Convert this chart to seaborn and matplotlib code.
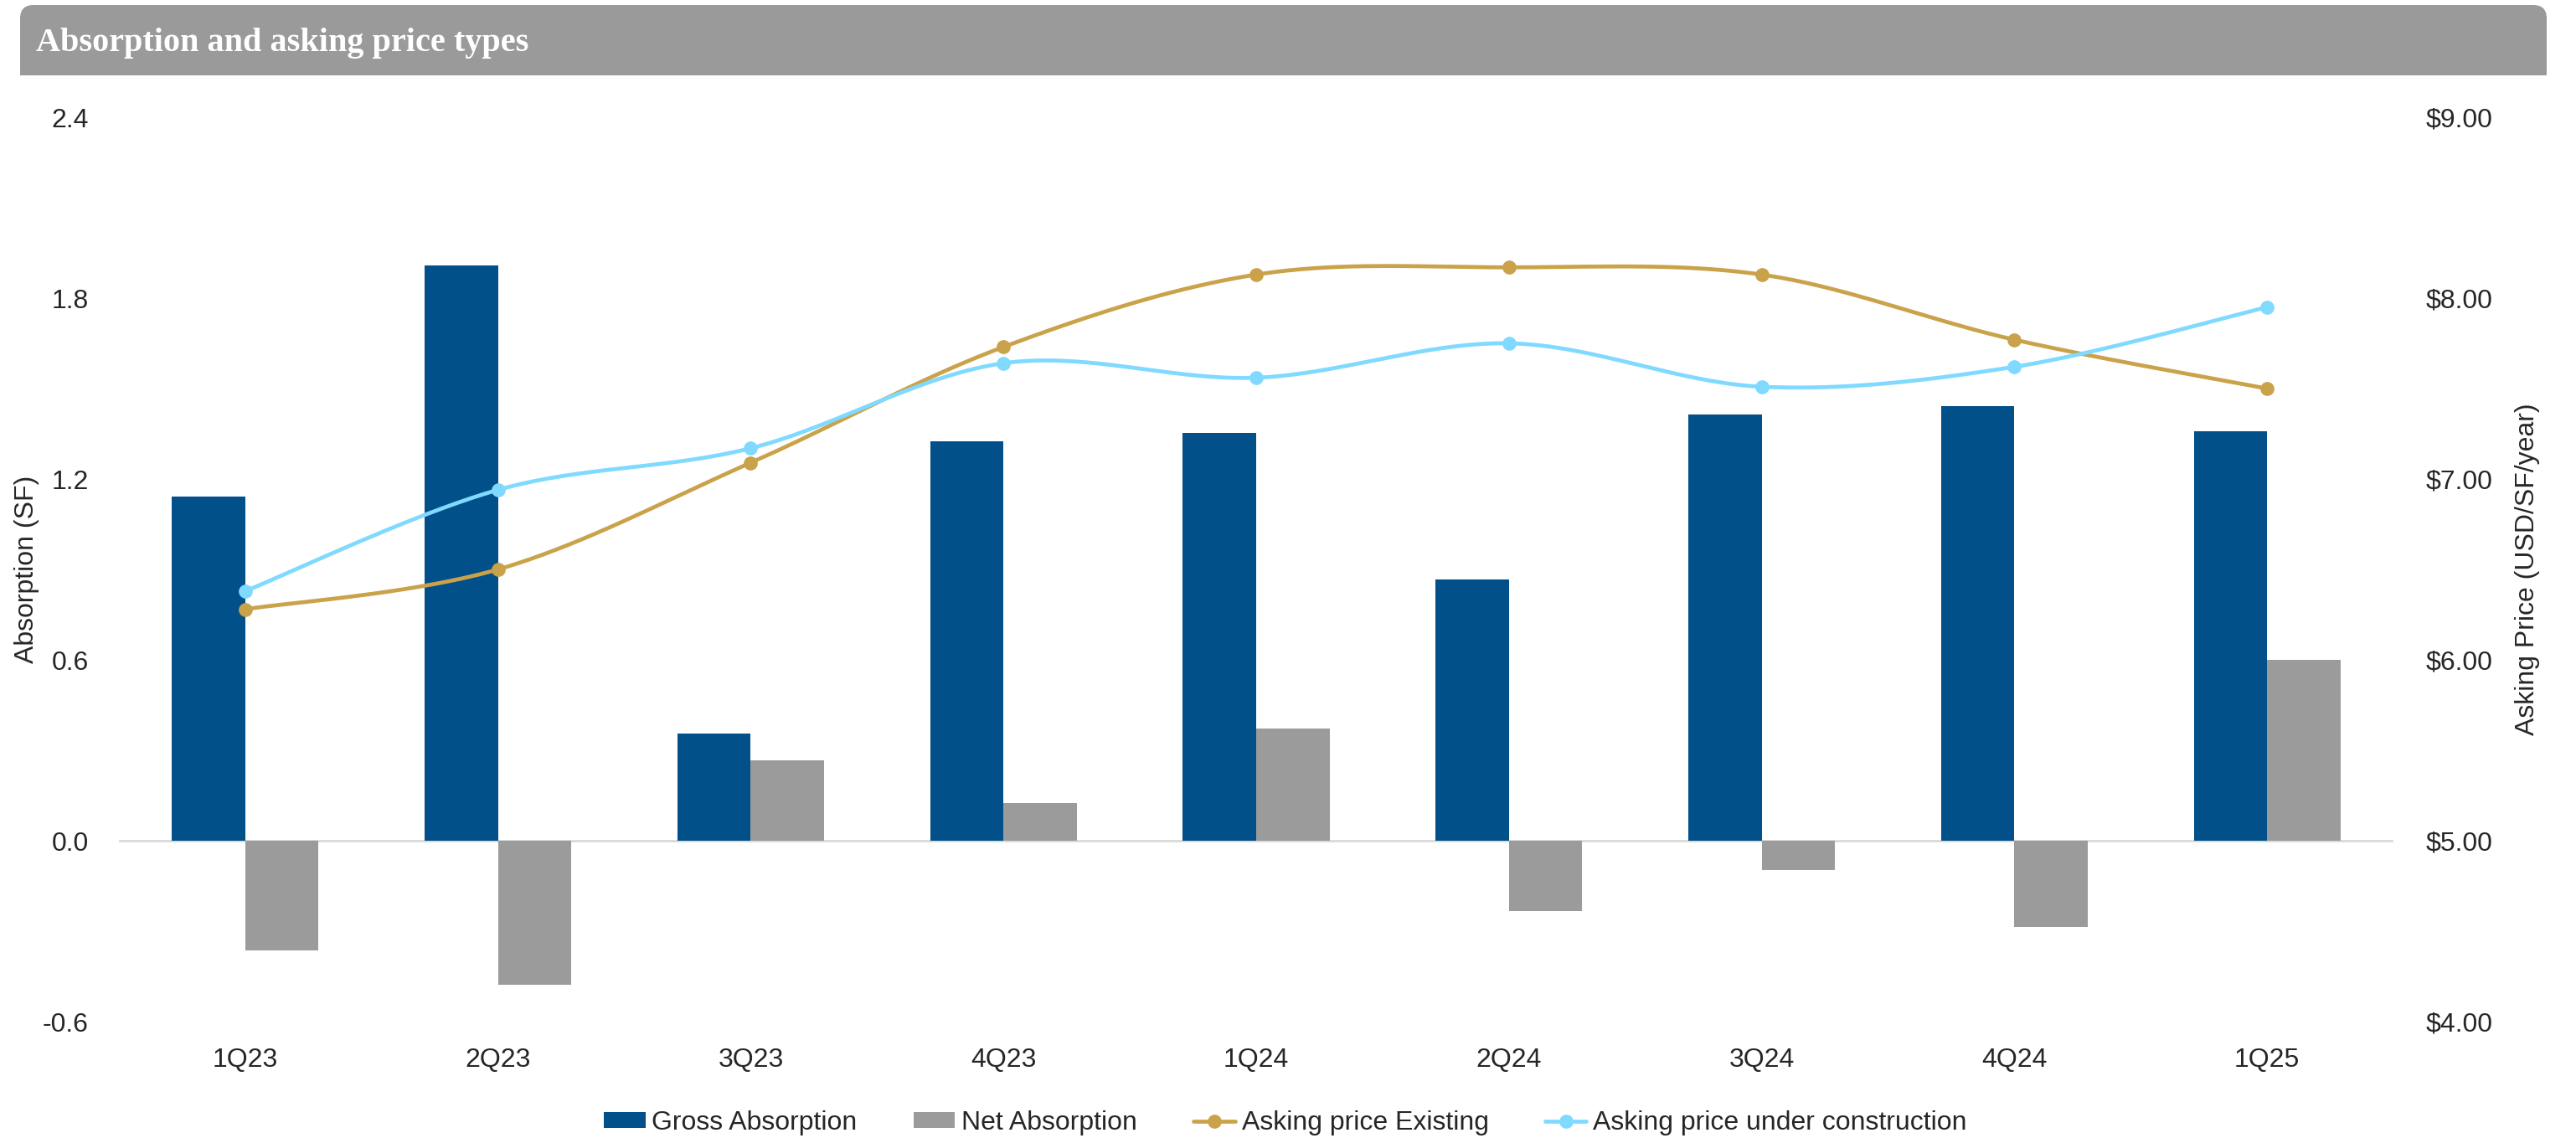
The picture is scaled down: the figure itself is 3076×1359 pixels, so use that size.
import numpy as np
import pandas as pd
import matplotlib
matplotlib.use("Agg")
import matplotlib.pyplot as plt
import seaborn as sns
from matplotlib.patches import FancyBboxPatch, Rectangle, Patch
from matplotlib.lines import Line2D
from matplotlib.transforms import IdentityTransform

# ---- data -------------------------------------------------------------
quarters = ["1Q23", "2Q23", "3Q23", "4Q23", "1Q24", "2Q24", "3Q24", "4Q24", "1Q25"]
gross_absorption = [1.143, 1.907, 0.355, 1.325, 1.352, 0.866, 1.413, 1.442, 1.359]
net_absorption = [-0.363, -0.478, 0.266, 0.125, 0.372, -0.232, -0.096, -0.286, 0.601]
price_existing = [6.28, 6.50, 7.09, 7.73, 8.13, 8.17, 8.13, 7.77, 7.50]
price_under_construction = [6.38, 6.94, 7.17, 7.64, 7.56, 7.75, 7.51, 7.62, 7.95]

left_ticks = [-0.6, 0.0, 0.6, 1.2, 1.8, 2.4]
right_ticks = [4.0, 5.0, 6.0, 7.0, 8.0, 9.0]

C_GROSS = "#02508A"
C_NET = "#9B9B9B"
C_EXIST = "#C9A24A"
C_UC = "#80D9FF"
TXT = "#262626"
FS = 23

sns.set_style("white")
plt.rcParams["font.family"] = ["Liberation Sans", "DejaVu Sans"]

W, H = 3076, 1359
fig = plt.figure(figsize=(W / 100, H / 100), dpi=100)
ax = fig.add_axes([142 / W, 1 - 1220 / H, (2858 - 142) / W, (1220 - 140) / H])

# ---- bars ---------------------------------------------------------------
bars = pd.DataFrame({
    "Quarter": quarters * 2,
    "Value": gross_absorption + net_absorption,
    "Series": ["Gross Absorption"] * len(quarters) + ["Net Absorption"] * len(quarters),
})
sns.barplot(data=bars, x="Quarter", y="Value", hue="Series", order=quarters,
            palette=[C_GROSS, C_NET], saturation=1, width=0.58, linewidth=0,
            legend=False, errorbar=None, ax=ax, zorder=2)
ax.axhline(0, color="#D9D9D9", lw=2, zorder=1)
ax.set_xlim(-0.5, len(quarters) - 0.5)
ax.set_ylim(-0.6, 2.4)
ax.set_yticks(left_ticks)
ax.set_yticklabels([f"{t:.1f}" for t in left_ticks])
ax.set_xlabel("")
ax.set_ylabel("Absorption (SF)", fontsize=FS, color=TXT)
ax.yaxis.set_label_coords((47 - 142) / (2858 - 142), 0.5)
ax.tick_params(axis="both", length=0, labelsize=FS, labelcolor=TXT)
ax.tick_params(axis="y", pad=26)
ax.tick_params(axis="x", pad=22)
for s in ax.spines.values():
    s.set_visible(False)

# ---- smoothed price lines on the secondary axis ------------------------
def smooth(xv, yv, n=40):
    """Cubic Bezier smoothing through every point (spreadsheet-style)."""
    x = np.asarray(xv, float)
    y = np.asarray(yv, float)
    xs, ys = [], []
    m = len(x)
    for i in range(m - 1):
        x0, y0 = (x[i - 1], y[i - 1]) if i > 0 else (x[i], y[i])
        x3, y3 = (x[i + 2], y[i + 2]) if i + 2 < m else (x[i + 1], y[i + 1])
        c1x = x[i] + (x[i + 1] - x0) / 6
        c1y = y[i] + (y[i + 1] - y0) / 6
        c2x = x[i + 1] - (x3 - x[i]) / 6
        c2y = y[i + 1] - (y3 - y[i]) / 6
        t = np.linspace(0, 1, n)
        b0 = (1 - t) ** 3
        b1 = 3 * (1 - t) ** 2 * t
        b2 = 3 * (1 - t) * t ** 2
        b3 = t ** 3
        xs.append(b0 * x[i] + b1 * c1x + b2 * c2x + b3 * x[i + 1])
        ys.append(b0 * y[i] + b1 * c1y + b2 * c2y + b3 * y[i + 1])
    return np.concatenate(xs), np.concatenate(ys)

ax2 = ax.twinx()
pos = np.arange(len(quarters))
for vals, col in [(price_existing, C_EXIST), (price_under_construction, C_UC)]:
    sx, sy = smooth(pos, vals)
    sns.lineplot(x=sx, y=sy, color=col, lw=3.4, sort=False, ax=ax2, zorder=3)
    ax2.plot(pos, vals, "o", color=col, ms=11, zorder=4)
ax2.set_ylim(4, 9)
ax2.set_yticks(right_ticks)
ax2.set_yticklabels([f"${t:.2f}" for t in right_ticks])
ax2.set_ylabel("Asking Price (USD/SF/year)", fontsize=FS, color=TXT)
ax2.yaxis.set_label_coords((3003 - 142) / (2858 - 142), 0.5)
ax2.tick_params(axis="y", length=0, labelsize=FS, labelcolor=TXT, pad=28)
for s in ax2.spines.values():
    s.set_visible(False)
ax2.set_xlim(-0.5, len(quarters) - 0.5)

# ---- header band --------------------------------------------------------
hx0, hx1, hy0, hy1 = 24, 3041, H - 90, H - 6
band = FancyBboxPatch((hx0, hy0), hx1 - hx0, hy1 - hy0,
                      boxstyle="round,pad=0,rounding_size=16",
                      transform=IdentityTransform(), facecolor="#9A9A9A",
                      edgecolor="none", zorder=0)
fig.patches.append(band)
fig.patches.append(Rectangle((hx0, hy0), hx1 - hx0, 30, transform=IdentityTransform(),
                             facecolor="#9A9A9A", edgecolor="none", zorder=0))
fig.text(43 / W, 1 - 52 / H, "Absorption and asking price types",
         fontfamily="Liberation Serif", fontweight="bold", fontsize=29,
         color="white", va="center", ha="left")

# ---- legend -------------------------------------------------------------
handles = [
    Patch(facecolor=C_GROSS, edgecolor="none"),
    Patch(facecolor=C_NET, edgecolor="none"),
    Line2D([], [], color=C_EXIST, lw=3.4, marker="o", ms=11),
    Line2D([], [], color=C_UC, lw=3.4, marker="o", ms=11),
]
labels = ["Gross Absorption", "Net Absorption", "Asking price Existing",
          "Asking price under construction"]
fig.legend(handles, labels, loc="center", bbox_to_anchor=(0.499, 1 - 1341 / H),
           ncol=4, frameon=False, fontsize=FS, labelcolor=TXT,
           handlelength=1.55, handleheight=0.55, handletextpad=0.25,
           columnspacing=2.1)

fig.savefig("out.png", dpi=100)
